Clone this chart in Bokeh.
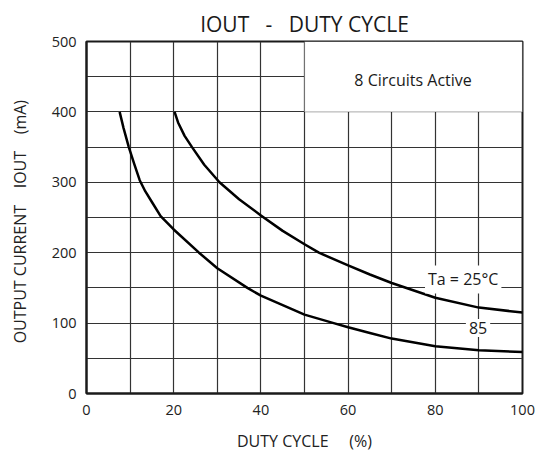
from bokeh.plotting import figure
from bokeh.models import FixedTicker, Label, BoxAnnotation, Range1d, Title
from bokeh.embed import file_html
from bokeh.resources import INLINE

# ---- data ----
duty_25 = [20.2, 21, 22.5, 24.2, 27, 30.5, 35, 40, 45, 50, 53.3, 60, 65, 70, 80, 90, 100]
iout_25 = [400, 385, 366, 350, 325, 300, 276, 253, 231, 212, 200, 182, 169, 157, 136, 122, 115]

duty_85 = [7.6, 8.5, 9.7, 11, 12.2, 13.5, 15, 17, 20, 25.8, 30, 36.9, 40, 50, 56.7, 60, 65, 70, 80, 90, 100]
iout_85 = [400, 377, 350, 325, 303, 287, 272, 252, 233, 200, 178, 150, 139, 112, 100, 94, 86, 78, 67, 61.5, 59]

x_ticks = [0, 20, 40, 60, 80, 100]
y_ticks = [0, 100, 200, 300, 400, 500]
x_grid = [10, 20, 30, 40, 50, 60, 70, 80, 90]
y_grid = [50, 100, 150, 200, 250, 300, 350, 400, 450]

NB = "\u00a0"
title_text = "IOUT" + NB * 3 + "-" + NB * 3 + "DUTY CYCLE"
x_label = "DUTY CYCLE" + NB * 5 + "(%)"
y_label = "OUTPUT CURRENT" + NB * 4 + "IOUT" + NB * 4 + "(mA)" + NB * 2

FONT = "Open Sans"
INK = "#1a1a1a"

p = figure(width=536, height=454, output_backend="svg", toolbar_location=None,
           x_range=Range1d(0, 100), y_range=Range1d(0, 500),
           min_border_left=86, min_border_right=14, min_border_top=41, min_border_bottom=56)
p.title = Title(text=title_text, align="center", text_font=FONT,
                text_font_size="21px", text_font_style="normal", text_color=INK,
                standoff=8)
p.background_fill_color = "white"
p.border_fill_color = "white"
p.outline_line_color = INK
p.outline_line_width = 2

for ax, ticks in ((p.xaxis, x_ticks), (p.yaxis, y_ticks)):
    ax.ticker = FixedTicker(ticks=ticks)
    ax.major_tick_line_color = None
    ax.minor_tick_line_color = None
    ax.axis_line_color = INK
    ax.axis_line_width = 2
    ax.major_label_text_font = FONT
    ax.major_label_text_font_size = "14.5px"
    ax.major_label_text_color = "#222222"
    ax.major_label_text_line_height = 0.9
    ax.axis_label_text_font = FONT
    ax.axis_label_text_font_size = "16px"
    ax.axis_label_text_font_style = "normal"
    ax.axis_label_text_color = "#222222"
    ax.axis_label_text_line_height = 0.9
p.xaxis.major_label_standoff = 5
p.yaxis.major_label_standoff = 4
p.xaxis.axis_label = x_label
p.yaxis.axis_label = y_label
p.xaxis.axis_label_standoff = 12
p.yaxis.axis_label_standoff = 18

p.xgrid.ticker = FixedTicker(ticks=x_grid)
p.ygrid.ticker = FixedTicker(ticks=y_grid)
for g in (p.xgrid, p.ygrid):
    g.grid_line_color = "#333333"
    g.grid_line_width = 1.2

# white inset region with no grid (top right)
p.add_layout(BoxAnnotation(left=50, right=100, bottom=400, top=500,
                           fill_color="white", fill_alpha=1.0,
                           line_color=INK, line_width=1.2))

p.line(duty_25, iout_25, line_color="black", line_width=2.5, line_join="round")
p.line(duty_85, iout_85, line_color="black", line_width=2.5, line_join="round")

def lab(text, x, y, size, bg=None):
    kw = dict(x=x, y=y, text=text, text_font=FONT, text_font_size=size, text_color=INK,
              text_align="center", text_baseline="middle")
    if bg:
        kw.update(background_fill_color=bg, background_fill_alpha=1.0, padding=3)
    p.add_layout(Label(**kw))

lab("8 Circuits Active", 74.9, 445, "16px")
lab("Ta = 25°C", 86.4, 162, "16px", bg="white")
lab("85", 89.8, 93, "16px", bg="white")

open("out.html", "w").write(file_html(p, INLINE))
